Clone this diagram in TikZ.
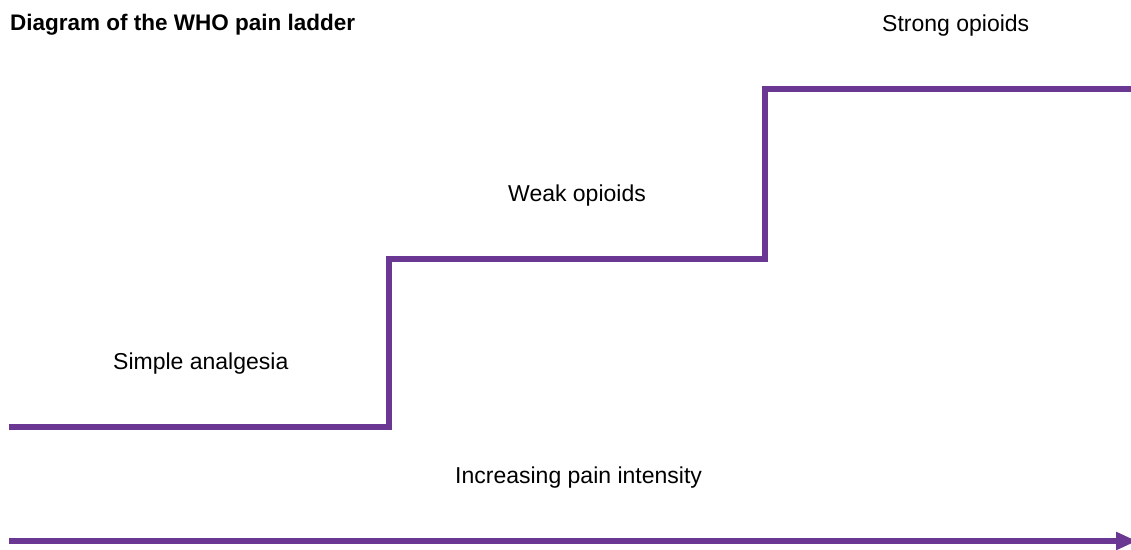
\documentclass[tikz,border=0pt]{standalone}
\usepackage{fontspec}
\setmainfont{Liberation Sans}
\usetikzlibrary{arrows.meta}
\definecolor{ladder}{RGB}{106,56,146}
\begin{document}
\begin{tikzpicture}[x=1pt,y=-1pt,
  lbl/.style={anchor=base west,inner sep=0pt,font=\fontsize{23}{27}\selectfont},
  stepline/.style={draw=ladder,line width=5.5pt},
]
\useasboundingbox (0,0) rectangle (1131,549);
\node[lbl,font=\fontsize{22.5}{27}\selectfont\bfseries] (title) at (10,30) {Diagram of the WHO pain ladder};
\node[lbl] (strong) at (882,31) {Strong opioids};
\node[lbl] (weak) at (508,201) {Weak opioids};
\node[lbl] (simple) at (113,369) {Simple analgesia};
\node[lbl] (incr) at (455,483) {Increasing pain intensity};
\coordinate (s0) at (9,427);
\coordinate (s1) at (389,427);
\coordinate (s2) at (389,259);
\coordinate (s3) at (765,259);
\coordinate (s4) at (765,89);
\coordinate (s5) at (1131,89);
\draw[stepline] (s0) -- (s1) -- (s2) -- (s3) -- (s4) -- (s5);
\coordinate (a0) at (9,541);
\coordinate (a1) at (1137,541);
\draw[stepline,-{Triangle[length=21pt 0 0,width=17pt 0 0]}] (a0) -- (a1);
\end{tikzpicture}
\end{document}
